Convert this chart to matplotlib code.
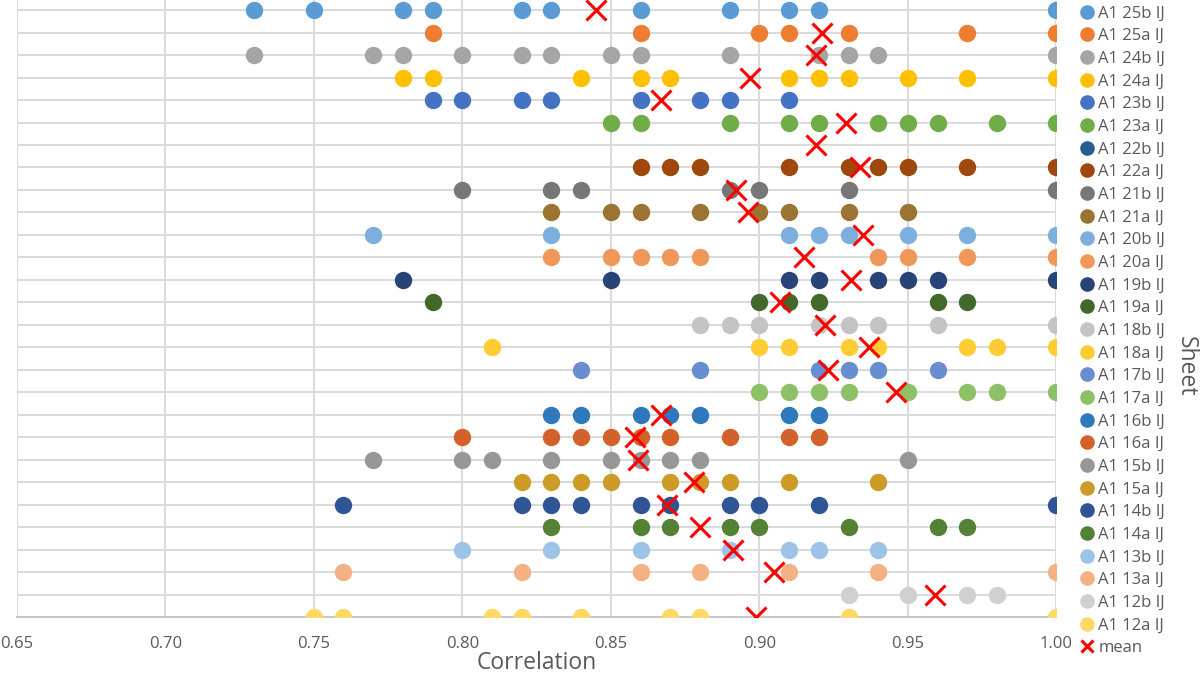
import matplotlib.pyplot as plt
from matplotlib.lines import Line2D

plt.rcParams['font.family'] = ['Open Sans', 'DejaVu Sans']

# sheets from bottom row to top row
sheets = ['A1 12a IJ', 'A1 12b IJ', 'A1 13a IJ', 'A1 13b IJ', 'A1 14a IJ', 'A1 14b IJ',
          'A1 15a IJ', 'A1 15b IJ', 'A1 16a IJ', 'A1 16b IJ', 'A1 17a IJ', 'A1 17b IJ',
          'A1 18a IJ', 'A1 18b IJ', 'A1 19a IJ', 'A1 19b IJ', 'A1 20a IJ', 'A1 20b IJ',
          'A1 21a IJ', 'A1 21b IJ', 'A1 22a IJ', 'A1 22b IJ', 'A1 23a IJ', 'A1 23b IJ',
          'A1 24a IJ', 'A1 24b IJ', 'A1 25a IJ', 'A1 25b IJ']

v12a = [0.75, 0.76, 0.81, 0.82, 0.84, 0.87, 0.88, 0.93, 1.00]
v12b = [0.93, 0.95, 0.97, 0.98]
v13a = [0.76, 0.82, 0.86, 0.88, 0.91, 0.94, 1.00]
v13b = [0.80, 0.83, 0.86, 0.89, 0.91, 0.92, 0.94]
v14a = [0.83, 0.86, 0.87, 0.89, 0.90, 0.93, 0.96, 0.97]
v14b = [0.76, 0.82, 0.83, 0.84, 0.86, 0.87, 0.89, 0.90, 0.92, 1.00]
v15a = [0.82, 0.83, 0.84, 0.85, 0.87, 0.88, 0.89, 0.91, 0.94]
v15b = [0.77, 0.80, 0.81, 0.83, 0.85, 0.86, 0.87, 0.88, 0.95]
v16a = [0.80, 0.83, 0.84, 0.85, 0.86, 0.87, 0.89, 0.91, 0.92]
v16b = [0.83, 0.84, 0.86, 0.87, 0.88, 0.91, 0.92]
v17a = [0.90, 0.91, 0.92, 0.93, 0.95, 0.97, 0.98, 1.00]
v17b = [0.84, 0.88, 0.92, 0.93, 0.94, 0.96]
v18a = [0.81, 0.90, 0.91, 0.93, 0.94, 0.97, 0.98, 1.00]
v18b = [0.88, 0.89, 0.90, 0.92, 0.93, 0.94, 0.96, 1.00]
v19a = [0.79, 0.90, 0.91, 0.92, 0.96, 0.97]
v19b = [0.78, 0.85, 0.91, 0.92, 0.94, 0.95, 0.96, 1.00]
v20a = [0.83, 0.85, 0.86, 0.87, 0.88, 0.94, 0.95, 0.97, 1.00]
v20b = [0.77, 0.83, 0.91, 0.92, 0.93, 0.95, 0.97, 1.00]
v21a = [0.83, 0.85, 0.86, 0.88, 0.90, 0.91, 0.93, 0.95]
v21b = [0.80, 0.83, 0.84, 0.89, 0.90, 0.93, 1.00]
v22a = [0.86, 0.87, 0.88, 0.91, 0.93, 0.94, 0.95, 0.97, 1.00]
v22b = []
v23a = [0.85, 0.86, 0.89, 0.91, 0.92, 0.94, 0.95, 0.96, 0.98, 1.00]
v23b = [0.79, 0.80, 0.82, 0.83, 0.86, 0.88, 0.89, 0.91]
v24a = [0.78, 0.79, 0.84, 0.86, 0.87, 0.91, 0.92, 0.93, 0.95, 0.97, 1.00]
v24b = [0.73, 0.77, 0.78, 0.80, 0.82, 0.83, 0.85, 0.86, 0.89, 0.92, 0.93, 0.94, 1.00]
v25a = [0.79, 0.86, 0.90, 0.91, 0.93, 0.97, 1.00]
v25b = [0.73, 0.75, 0.78, 0.79, 0.82, 0.83, 0.86, 0.89, 0.91, 0.92, 1.00]

values = [v12a, v12b, v13a, v13b, v14a, v14b, v15a, v15b, v16a, v16b,
          v17a, v17b, v18a, v18b, v19a, v19b, v20a, v20b, v21a, v21b,
          v22a, v22b, v23a, v23b, v24a, v24b, v25a, v25b]

means = [0.899, 0.959, 0.905, 0.891, 0.880, 0.869, 0.878, 0.859, 0.858, 0.867,
         0.946, 0.923, 0.937, 0.922, 0.907, 0.931, 0.915, 0.935, 0.896, 0.892,
         0.934, 0.919, 0.929, 0.867, 0.897, 0.919, 0.921, 0.845]

colors = ['#FFD966', '#D0D0D0', '#F4B183', '#9DC3E6', '#548235', '#2F5597',
          '#CC9B28', '#979797', '#D2622A', '#2E79BE', '#8CC168', '#698ED0',
          '#FFCD33', '#C4C4C4', '#43682B', '#264478', '#F1975A', '#7CAFDD',
          '#9A7430', '#777777', '#9E480E', '#255E91', '#70AD47', '#4472C4',
          '#FFC000', '#A5A5A5', '#ED7D31', '#5B9BD5']

grid_c = '#D9D9D9'
text_c = '#595959'

fig = plt.figure(figsize=(12, 6.75), dpi=100)
ax = fig.add_axes([0.0139, 0.0859, 0.8665, 0.9141])

for i, (vals, c) in enumerate(zip(values, colors)):
    ax.plot(vals, [i] * len(vals), 'o', color=c, markersize=11.5, zorder=3)
ax.plot(means, range(len(sheets)), 'x', color='#FF0000', markersize=15,
        markeredgewidth=2.2, zorder=4)

ax.set_xlim(0.65, 1.0)
ax.set_ylim(0, 27.45)
ax.set_xticks([0.65, 0.70, 0.75, 0.80, 0.85, 0.90, 0.95, 1.00])
ax.set_xticklabels(['0.65', '0.70', '0.75', '0.80', '0.85', '0.90', '0.95', '1.00'])
ax.set_yticks(range(len(sheets)))
ax.set_yticklabels([])
ax.tick_params(axis='both', length=0, colors=text_c, labelsize=12)
ax.tick_params(axis='x', pad=14)
ax.grid(True, color=grid_c, linewidth=1.4, zorder=0)
ax.set_axisbelow(True)
for s in ['top', 'right', 'left']:
    ax.spines[s].set_visible(False)
ax.spines['bottom'].set_color('#C8C8C8')
ax.spines['bottom'].set_linewidth(1.5)

ax.set_xlabel('Correlation', fontsize=16.5, color=text_c, labelpad=-1)
fig.text(0.988, 0.457, 'Sheet', rotation=-90, fontsize=16.5, color=text_c,
         ha='center', va='center')

handles = [Line2D([], [], marker='o', linestyle='', color=c, markersize=9.5)
           for c in colors[::-1]]
handles.append(Line2D([], [], marker='x', linestyle='', color='#FF0000',
                      markersize=9, markeredgewidth=2.2))
labels = sheets[::-1] + ['mean']
fig.legend(handles, labels, loc='upper left', bbox_to_anchor=(0.9, 0.992),
           frameon=False, fontsize=12, labelcolor=text_c, labelspacing=0.4,
           handlelength=0.8, handletextpad=0.3, borderaxespad=0, borderpad=0)

fig.savefig('out.png', dpi=100)
